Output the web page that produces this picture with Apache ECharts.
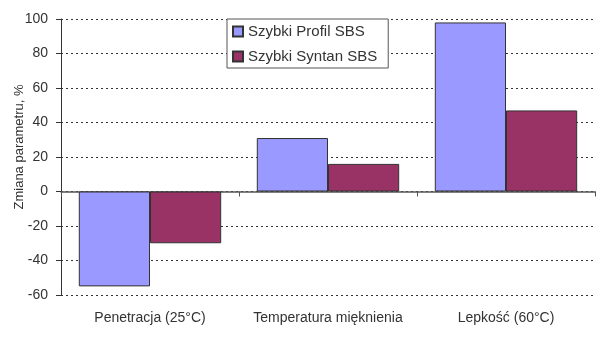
<!DOCTYPE html>
<html><head><meta charset="utf-8">
<script src="https://cdn.jsdelivr.net/npm/echarts@6/dist/echarts.min.js"></script>
<style>html,body{margin:0;padding:0;background:#fff}#c{width:600px;height:338px}</style>
</head><body><div id="c"></div>
<script>
const categories = ['Penetracja (25°C)', 'Temperatura mięknienia', 'Lepkość (60°C)'];
const profil = [-55, 31, 98];
const syntan = [-30, 16, 47];
const seriesNames = ['Szybki Profil SBS', 'Szybki Syntan SBS'];
const yTitle = 'Zmiana parametru, %';

const chart = echarts.init(document.getElementById('c'), null, {renderer: 'canvas'});
const font = 'Liberation Sans, Arial, sans-serif';
chart.setOption({
  animation: false,
  backgroundColor: '#fff',
  textStyle: {fontFamily: font},
  grid: {left: 61, right: 5, top: 19, bottom: 43, containLabel: false, outerBoundsMode: 'none'},
  legend: {
    orient: 'vertical', left: 227, top: 19,
    backgroundColor: '#fff', borderColor: '#555', borderWidth: 1,
    padding: [5, 11, 4, 5], itemGap: 10,
    itemWidth: 10, itemHeight: 10, icon: 'rect',
    textStyle: {fontFamily: font, fontSize: 15, color: '#333'},
    data: seriesNames
  },
  xAxis: [
    {type: 'category', data: categories, axisLine: {onZero: true, lineStyle: {color: '#555', width: 1.5}},
     axisTick: {show: true, inside: false, length: 5, lineStyle: {color: '#555'}},
     axisLabel: {show: false}, splitLine: {show: false}},
    {type: 'category', data: categories, position: 'bottom', gridIndex: 0,
     axisLine: {show: false, onZero: false}, axisTick: {show: false}, splitLine: {show: false},
     axisLabel: {show: true, interval: 0, fontSize: 14, color: '#333', fontFamily: font, margin: 16}}
  ],
  yAxis: {
    type: 'value', min: -60, max: 100, interval: 20,
    name: yTitle, nameLocation: 'middle', nameGap: 35, nameMoveOverlap: false,
    nameTextStyle: {fontSize: 13, color: '#333', fontFamily: font, padding: [0, 0, 0, 20]},
    axisLine: {show: true, lineStyle: {color: '#333'}},
    axisTick: {show: true, length: 5, lineStyle: {color: '#333'}},
    axisLabel: {fontSize: 14, color: '#333', fontFamily: font, margin: 13},
    splitLine: {show: true, lineStyle: {color: '#333', type: [2, 3], width: 1}}
  },
  series: [
    {name: seriesNames[0], type: 'bar', data: profil, xAxisIndex: 0, barGap: '0%', barCategoryGap: '20%',
     itemStyle: {color: '#9999ff', borderColor: '#333', borderWidth: 1}},
    {name: seriesNames[1], type: 'bar', data: syntan, xAxisIndex: 0,
     itemStyle: {color: '#993366', borderColor: '#333', borderWidth: 1}}
  ]
});
</script></body></html>
